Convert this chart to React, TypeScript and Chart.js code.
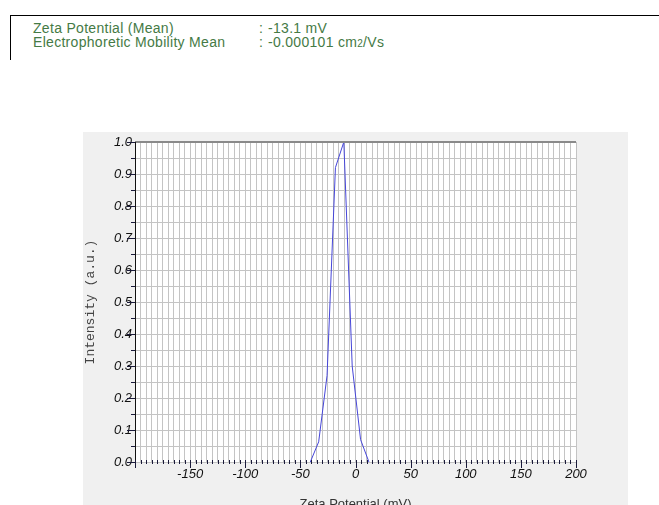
import React, { useEffect, useRef } from 'react';
import { Chart, registerables } from 'chart.js';

Chart.register(...registerables);

// ---- data ----
const zetaPotentials = [-41, -33.4, -25.8, -18.2, -10.6, -3.0, 4.6, 12.2];
const intensities = [0, 0.063, 0.27, 0.92, 1.0, 0.3, 0.07, 0];
const xTickLabels = [-150, -100, -50, 0, 50, 100, 150, 200];
const yTickLabels = ['0.0', '0.1', '0.2', '0.3', '0.4', '0.5', '0.6', '0.7', '0.8', '0.9', '1.0'];
const xRange = [-200, 200];
const yRange = [0, 1];
const xTitle = 'Zeta Potential (mV)';
const yTitle = 'Intensity (a.u.)';
const headerLabels = ['Zeta Potential (Mean)', 'Electrophoretic Mobility Mean'];
const headerValues = ['-13.1 mV', '-0.000101 cm'];

const framePlugin = {
  id: 'frame',
  beforeDraw(chart: any) {
    const { ctx, chartArea } = chart;
    ctx.save();
    ctx.fillStyle = '#ffffff';
    ctx.fillRect(chartArea.left, chartArea.top, chartArea.right - chartArea.left, chartArea.bottom - chartArea.top);
    ctx.restore();
  },
  afterDraw(chart: any) {
    const { ctx, chartArea } = chart;
    const xs = chart.scales.x;
    const ys = chart.scales.y;
    ctx.save();
    // top border
    ctx.strokeStyle = '#8a8a8a';
    ctx.lineWidth = 2;
    ctx.beginPath();
    ctx.moveTo(chartArea.left, chartArea.top);
    ctx.lineTo(chartArea.right, chartArea.top);
    ctx.stroke();
    // left axis line
    ctx.strokeStyle = '#111111';
    ctx.lineWidth = 1;
    ctx.beginPath();
    const lx = Math.round(chartArea.left) + 0.5;
    ctx.moveTo(lx, chartArea.top);
    ctx.lineTo(lx, chartArea.bottom + 4);
    ctx.stroke();
    // x tick marks
    ctx.strokeStyle = '#1a1a3a';
    ctx.beginPath();
    xs.ticks.forEach((t: any) => {
      const v = Math.round(t.value);
      const px = Math.round(xs.getPixelForValue(t.value)) + 0.5;
      const major = xTickLabels.includes(v) || v === xRange[0];
      ctx.moveTo(px, chartArea.bottom - 2);
      ctx.lineTo(px, chartArea.bottom + (major ? 6 : 2));
    });
    ctx.stroke();
    // y tick marks
    ctx.beginPath();
    ys.ticks.forEach((t: any) => {
      const py = Math.round(ys.getPixelForValue(t.value)) + 0.5;
      const major = Math.round(t.value * 20) % 2 === 0;
      ctx.moveTo(chartArea.left - (major ? 8 : 4), py);
      ctx.lineTo(chartArea.left, py);
    });
    ctx.stroke();
    ctx.restore();
  },
};

function ZetaChart() {
  const ref = useRef<HTMLCanvasElement | null>(null);
  useEffect(() => {
    if (!ref.current) return;
    const chart = new Chart(ref.current, {
      type: 'line',
      data: {
        datasets: [
          {
            data: zetaPotentials.map((x, i) => ({ x, y: intensities[i] })),
            borderColor: '#4646d8',
            borderWidth: 1,
            pointRadius: 0,
            tension: 0,
            fill: false,
          },
        ],
      },
      options: {
        animation: false,
        responsive: false,
        devicePixelRatio: 1,
        layout: { padding: { left: 80, top: 142, right: 83, bottom: 0 } },
        plugins: { legend: { display: false }, tooltip: { enabled: false } },
        scales: {
          x: {
            type: 'linear',
            min: xRange[0],
            max: xRange[1],
            afterFit: (s: any) => {
              s.height = 58;
            },
            border: { display: false },
            grid: { color: '#c4c4c4', lineWidth: 1, drawTicks: false },
            ticks: {
              stepSize: 5,
              autoSkip: false,
              maxRotation: 0,
              minRotation: 0,
              padding: 5,
              color: '#111111',
              font: { family: 'Liberation Sans', size: 13, style: 'italic' },
              callback: (v: any) => {
                const r = Math.round(Number(v));
                return xTickLabels.includes(r) ? String(r) : '';
              },
            },
            title: {
              display: true,
              text: xTitle,
              color: '#333333',
              font: { family: 'Liberation Sans', size: 13 },
              padding: { top: 0, bottom: 8 },
            },
          },
          y: {
            type: 'linear',
            min: yRange[0],
            max: yRange[1],
            afterFit: (s: any) => {
              s.width = 55;
            },
            border: { display: false },
            grid: { color: '#c4c4c4', lineWidth: 1, drawTicks: false },
            ticks: {
              stepSize: 0.05,
              autoSkip: false,
              padding: 3,
              color: '#111111',
              font: { family: 'Liberation Sans', size: 13, style: 'italic' },
              callback: (v: any) => {
                const n = Math.round(Number(v) * 20);
                return n % 2 === 0 ? yTickLabels[n / 2] : '';
              },
            },
            title: {
              display: true,
              text: yTitle,
              color: '#444444',
              font: { family: 'Liberation Mono', size: 13 },
              padding: { top: 3, bottom: 0 },
            },
          },
        },
      },
      plugins: [framePlugin],
    } as any);
    return () => chart.destroy();
  }, []);
  return (
    <canvas
      ref={ref}
      width={659}
      height={520}
      style={{ position: 'absolute', left: 0, top: 0, width: 659, height: 520 }}
    />
  );
}

const green = '#457a45';
const headerFont: React.CSSProperties = {
  position: 'absolute',
  fontFamily: '"Liberation Sans", Arial, sans-serif',
  fontSize: 14,
  lineHeight: '16px',
  letterSpacing: '0.3px',
  color: green,
  whiteSpace: 'nowrap',
};

export default function App() {
  return (
    <div
      style={{
        position: 'fixed',
        left: 0,
        top: 0,
        width: 659,
        height: 505,
        overflow: 'hidden',
        background: '#ffffff',
      }}
    >
      <div style={{ position: 'absolute', left: 10, top: 15, width: 649, height: 1, background: '#000' }} />
      <div style={{ position: 'absolute', left: 10, top: 15, width: 1, height: 45, background: '#000' }} />
      <div style={{ ...headerFont, left: 33, top: 20 }}>{headerLabels[0]}</div>
      <div style={{ ...headerFont, left: 259, top: 20 }}>:</div>
      <div style={{ ...headerFont, left: 268, top: 20 }}>{headerValues[0]}</div>
      <div style={{ ...headerFont, left: 33, top: 33.5 }}>{headerLabels[1]}</div>
      <div style={{ ...headerFont, left: 259, top: 33.5 }}>:</div>
      <div style={{ ...headerFont, left: 268, top: 33.5 }}>
        {headerValues[1]}
        <span style={{ fontSize: 10 }}>2</span>/Vs
      </div>
      <div
        style={{
          position: 'absolute',
          left: 83,
          top: 132,
          width: 545,
          height: 373,
          background: '#f0f0f0',
        }}
      />
      <ZetaChart />
    </div>
  );
}
